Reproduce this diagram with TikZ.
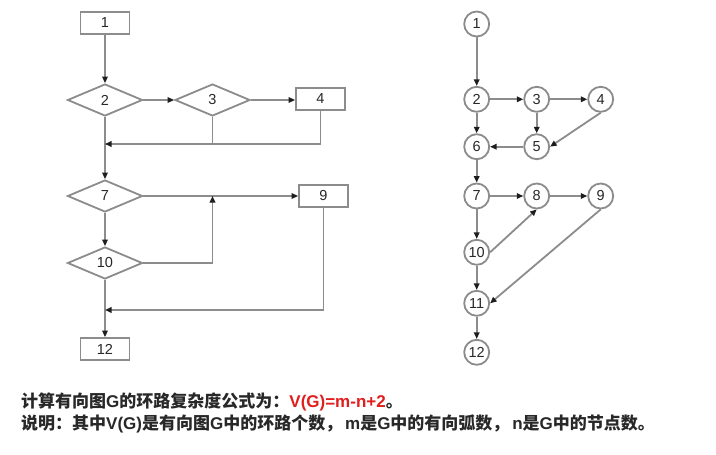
\documentclass[tikz,border=0pt]{standalone}
\usepackage{fontspec}
\setmainfont{Liberation Sans}
\newfontfamily\cjk{Noto Sans CJK SC}
\usetikzlibrary{arrows.meta,shapes.geometric}
\definecolor{lg}{RGB}{140,140,140}
\definecolor{tipc}{RGB}{30,30,30}
\definecolor{numc}{RGB}{40,40,40}
\definecolor{txt}{RGB}{40,40,40}
\definecolor{redt}{RGB}{225,30,30}
\tikzset{
  ln/.style={draw=lg, line width=1.8pt},
  arr/.style={ln, -{Triangle[length=6.5pt,width=5.5pt,color=tipc]}},
  numfont/.style={font=\fontsize{14.5}{16}\selectfont, text=numc},
  boxn/.style={rectangle, draw=lg, line width=1.8pt, fill=white, minimum width=49pt, minimum height=22pt, inner sep=0pt, numfont},
  dia/.style={diamond, draw=lg, line width=1.8pt, fill=white, aspect=2.34, minimum width=75pt, minimum height=32pt, inner sep=0pt, numfont},
  cir/.style={circle, draw=lg, line width=1.8pt, fill=white, minimum size=25pt, inner sep=0pt, numfont},
  txtline/.style={anchor=base west, inner sep=0pt, text=txt, font=\fontsize{17}{20}\selectfont\bfseries}
}
\begin{document}
\begin{tikzpicture}[x=1pt,y=-1pt]
\useasboundingbox (0,0) rectangle (716,455);
\fill[white] (0,0) rectangle (716,455);
% ---------- left flowchart ----------
\node[boxn] (b1) at (105,23) {1};
\node[dia] (d2) at (105,100) {2};
\node[dia] (d3) at (212.5,100) {3};
\node[boxn] (b4) at (320.5,99) {4};
\node[dia] (d7) at (105,196) {7};
\node[boxn] (b9) at (323.5,196) {9};
\node[dia] (d10) at (105,263) {10};
\node[boxn] (b12) at (105,349) {12};
\coordinate (m1) at (105,144);
\coordinate (m2) at (212.5,196);
\coordinate (m3) at (105,310);
\draw[arr] (b1) -- (d2);
\draw[arr] (d2) -- (d3);
\draw[arr] (d3) -- (b4.west |- d3);
\draw[arr] (d2) -- (d7);
\draw[ln] (d3.south) |- (m1);
\draw[arr] (b4.south) |- (m1);
\draw[arr] (d7) -- (b9);
\draw[arr] (d7) -- (d10);
\draw[arr] (d10.east) -| (m2);
\draw[arr] (d10) -- (b12);
\draw[arr] (b9.south) |- (m3);
% ---------- right graph ----------
\node[cir] (c1) at (476.7,24) {1};
\node[cir] (c2) at (476.7,99.3) {2};
\node[cir] (c3) at (536.7,99.3) {3};
\node[cir] (c4) at (600.7,99.3) {4};
\node[cir] (c6) at (476.7,146.7) {6};
\node[cir] (c5) at (536.7,146.7) {5};
\node[cir] (c7) at (476.7,196) {7};
\node[cir] (c8) at (536.7,196) {8};
\node[cir] (c9) at (600.7,196) {9};
\node[cir] (c10) at (476.7,252.3) {10};
\node[cir] (c11) at (476.7,303.3) {11};
\node[cir] (c12) at (476.7,352.3) {12};
\draw[arr] (c1) -- (c2);
\draw[arr] (c2) -- (c3);
\draw[arr] (c3) -- (c4);
\draw[arr] (c2) -- (c6);
\draw[arr] (c3) -- (c5);
\draw[arr] (c4.south) -- (c5.east);
\draw[arr] (c5) -- (c6);
\draw[arr] (c6) -- (c7);
\draw[arr] (c7) -- (c8);
\draw[arr] (c8) -- (c9);
\draw[arr] (c7) -- (c10);
\draw[arr] (c10.east) -- (c8.south);
\draw[arr] (c10) -- (c11);
\draw[arr] (c9.south) -- (c11.east);
\draw[arr] (c11) -- (c12);
% ---------- text ----------
\node[txtline] (t1) at (21,407) {{\cjk 计算有向图}G{\cjk 的环路复杂度公式为：}{\color{redt}V(G)=m-n+2}{\cjk 。}};
\node[txtline] (t2) at (21,429) {{\cjk 说明：其中}V(G){\cjk 是有向图}G{\cjk 中的环路个数，}\,m{\cjk 是}G{\cjk 中的有向弧数，}\,n{\cjk 是}G{\cjk 中的节点数。}};
\end{tikzpicture}
\end{document}
